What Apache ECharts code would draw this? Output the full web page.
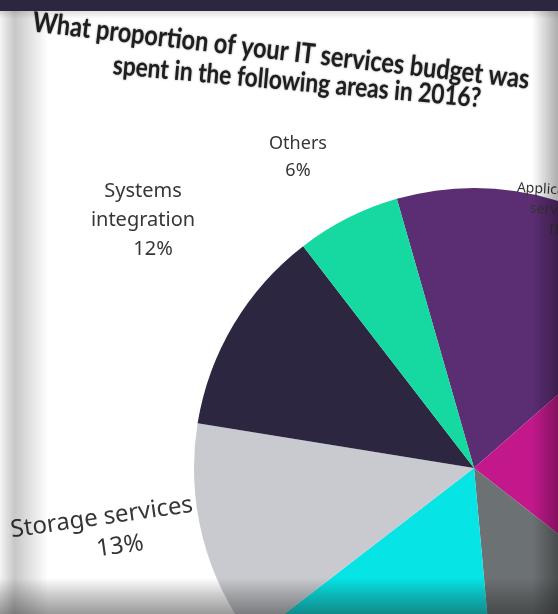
<!DOCTYPE html>
<html>
<head>
<meta charset="utf-8">
<script src="https://cdn.jsdelivr.net/npm/echarts@6/dist/echarts.min.js"></script>
<style>
html,body{margin:0;padding:0;background:#2d2640;overflow:hidden;}
#c{width:558px;height:614px;}
</style>
</head>
<body>
<div id="c"></div>
<script>
// ---- data ----
const categories = ['Applications services','Infrastructure services','Network services','Cloud services','Storage services','Systems integration','Others'];
const shares = [18, 22, 13, 16, 13, 12, 6];
const titleLines = ['What proportion of your IT services budget was', 'spent in the following areas in 2016?'];

// ---- styling (not data) ----
const sliceColors = ['#5b2d72','#c2188c','#6c7173','#06e4e6','#c8cacf','#2c2640','#16d8a1'];
const labelText = {
  'Applications services': 'Applications\nservices',
  'Systems integration': 'Systems\nintegration',
  'Storage services': 'Storage services',
  'Others': 'Others'
};
const labelStyle = {
  'Applications services': {pos:[556,210], size:14, lh:20, rot:-3, shift:6},
  'Others': {pos:[298,157], size:18, lh:27, rot:0, shift:0},
  'Systems integration': {pos:[143,220], size:20, lh:29, rot:0, shift:10},
  'Storage services': {pos:[104,533], size:24, lh:31, rot:8, shift:14}
};

const chart = echarts.init(document.getElementById('c'), null, {renderer:'canvas', width:558, height:614});

const option = {
  backgroundColor: 'transparent',
  animation: false,
  graphic: [
    {type:'rect', z:0, shape:{x:0, y:11, width:558, height:603}, style:{fill:'#ffffff'}},
    {type:'rect', z:100, shape:{x:0, y:11, width:48, height:603}, silent:true,
      style:{fill:new echarts.graphic.LinearGradient(0,0,1,0,[
        {offset:0, color:'rgba(0,0,0,0.04)'},
        {offset:0.3, color:'rgba(0,0,0,0.22)'},
        {offset:1, color:'rgba(0,0,0,0)'}])}},
    {type:'rect', z:100, shape:{x:0, y:11, width:558, height:8}, silent:true,
      style:{fill:new echarts.graphic.LinearGradient(0,0,0,1,[
        {offset:0, color:'rgba(0,0,0,0.12)'},
        {offset:1, color:'rgba(0,0,0,0)'}])}},
    {type:'rect', z:100, shape:{x:532, y:11, width:26, height:603}, silent:true,
      style:{fill:new echarts.graphic.LinearGradient(0,0,1,0,[
        {offset:0, color:'rgba(0,0,0,0)'},
        {offset:1, color:'rgba(0,0,0,0.32)'}])}},
    {type:'rect', z:100, shape:{x:0, y:578, width:558, height:36}, silent:true,
      style:{fill:new echarts.graphic.LinearGradient(0,0,0,1,[
        {offset:0, color:'rgba(30,30,30,0)'},
        {offset:0.45, color:'rgba(30,30,30,0.22)'},
        {offset:1, color:'rgba(30,30,30,0.45)'}])}},
    {type:'text', z:50, x:281, y:51, rotation:-0.115, scaleX:0.84,
      style:{text:titleLines[0], fontFamily:'Lato', fontWeight:'bold', fontSize:28, fill:'#1e1e1e',
        align:'center', verticalAlign:'middle', textShadowColor:'rgba(30,30,30,0.5)', textShadowBlur:2}},
    {type:'text', z:50, x:297, y:82, rotation:-0.09, scaleX:0.84,
      style:{text:titleLines[1], fontFamily:'Lato', fontWeight:'bold', fontSize:27, fill:'#1e1e1e',
        align:'center', verticalAlign:'middle', textShadowColor:'rgba(30,30,30,0.5)', textShadowBlur:2}}
  ],
  series: [{
    type: 'pie',
    center: [474, 468],
    radius: 280,
    startAngle: 106,
    clockwise: true,
    avoidLabelOverlap: false,
    label: {
      show: true,
      position: 'outside',
      color: '#363636',
      fontFamily: 'Noto Sans',
      formatter: p => (labelText[p.name] || p.name) + '\n{p|' + p.value + '%}'
    },
    labelLine: {show: false},
    labelLayout: function (params) {
      const s = labelStyle[categories[params.dataIndex]];
      if (!s) return {};
      return {x: s.pos[0], y: s.pos[1], align: 'center', verticalAlign: 'middle', rotate: s.rot};
    },
    emphasis: {disabled: true},
    data: categories.map((n, i) => {
      const s = labelStyle[n];
      return {
        name: n,
        value: shares[i],
        itemStyle: {color: sliceColors[i]},
        label: s ? {
          show: true, fontSize: s.size, lineHeight: s.lh, align: 'center',
          rich: {p: {fontFamily: 'Noto Sans', color: '#363636', fontSize: s.size, lineHeight: s.lh, padding: [0, 0, 0, s.shift * 2]}}
        } : {show: false}
      };
    })
  }]
};
chart.setOption(option);
</script>
</body>
</html>
